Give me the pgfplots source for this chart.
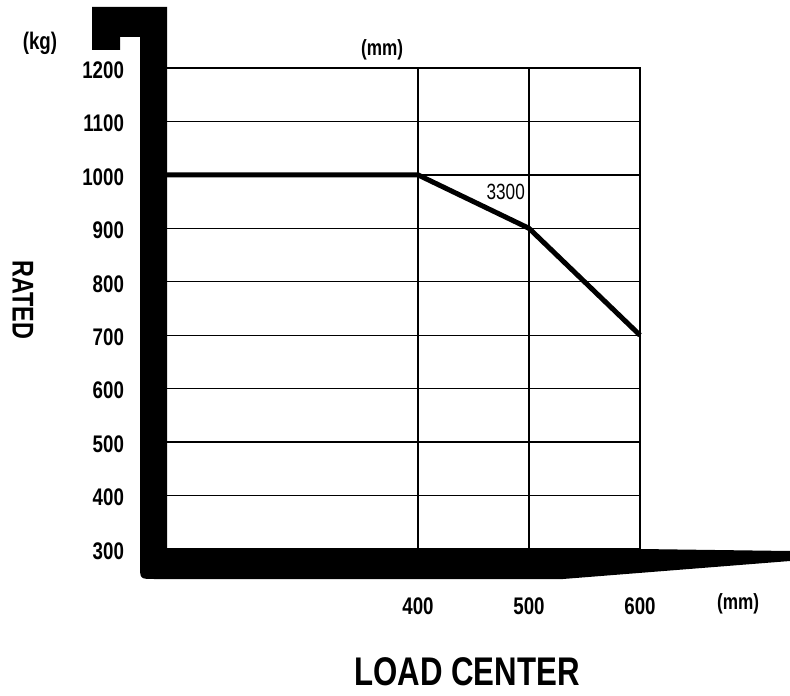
\documentclass[border=0pt]{standalone}
\usepackage{pgfplots}
\pgfplotsset{compat=1.18}
\usepackage{fontspec}
\setmainfont{Liberation Sans}[FakeStretch=0.78]
\begin{document}
\begin{tikzpicture}
\useasboundingbox (0pt,0pt) rectangle (395pt,347.5pt);
\begin{axis}[at={(82.5pt,73pt)}, anchor=south west, scale only axis,
 width=237.5pt, height=240.5pt,
 xmin=172, xmax=600, ymin=300, ymax=1200,
 xtick={400,500,600}, ytick={300,400,...,1200},
 grid=major, major grid style={black, line width=0.7pt},
 axis line style={black, line width=0.7pt},
 major tick length=0pt, tick style={draw=none},
 /pgf/number format/assume math mode=true, /pgf/number format/1000 sep={},
 ticklabel style={font=\bfseries\fontsize{12}{12}\selectfont},
 yticklabel style={xshift=-17pt, yshift=-1pt},
 xticklabel style={yshift=-21pt},
 clip=false]
\addplot[black, line width=2.5pt, line join=round] coordinates {(172,1000) (400,1000) (500,900) (600,700)};
\node[font=\fontsize{11}{11}\selectfont] at (axis cs:479,968) {3300};
\end{axis}
\begin{scope}[x=0.5pt,y=0.5pt]
\fill[black] (92,688) -- (167,688) -- (167,146) -- (640,146) -- (790,144) -- (790,134) -- (563,116) -- (154,116) .. controls (140,116) .. (140,130) -- (140,658) -- (120,658) -- (120,645) -- (92,645) -- cycle;
\node[font=\bfseries\fontsize{12}{12}\selectfont] at (40,652) {(kg)};
\node[font=\bfseries\fontsize{11}{11}\selectfont] at (382,645) {(mm)};
\node[font=\bfseries\fontsize{11}{11}\selectfont] at (738,91) {(mm)};
\node[rotate=-90, font=\bfseries\fontsize{15}{15}\selectfont] at (23,395) {RATED};
\node[font=\bfseries\fontsize{20}{20}\selectfont] at (467,23) {LOAD CENTER};
\end{scope}
\end{tikzpicture}
\end{document}
